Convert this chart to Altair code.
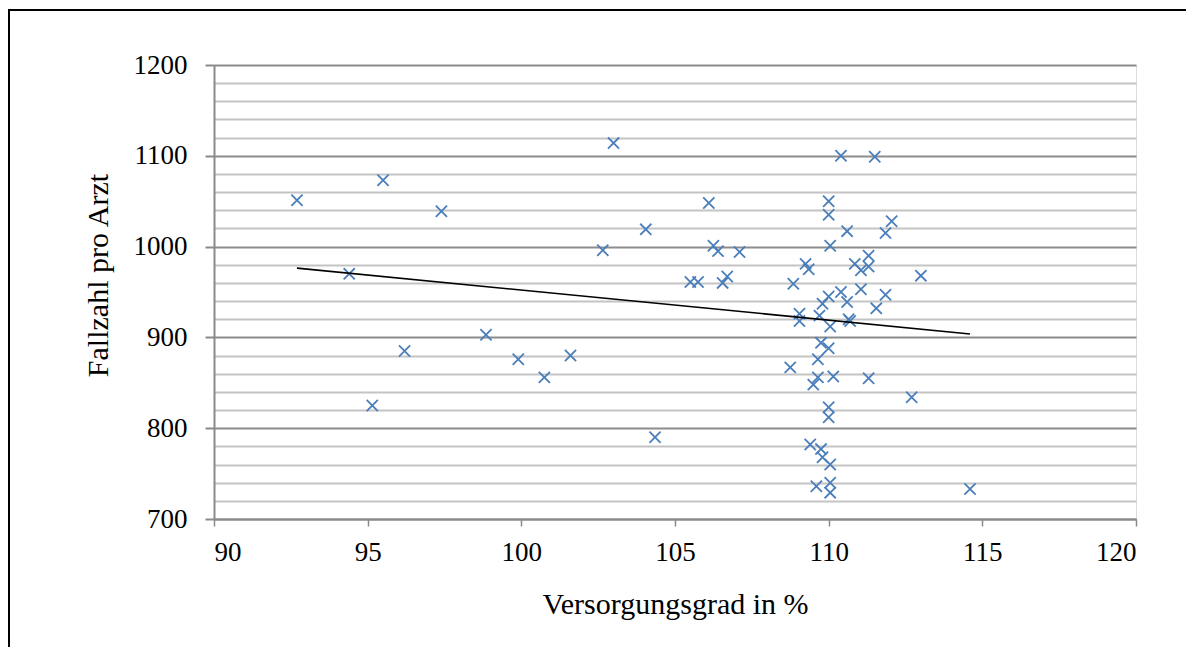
import altair as alt
import pandas as pd

# Versorgungsgrad in % (x) and Fallzahl pro Arzt (y)
versorgungsgrad = [
    92.7, 94.4, 95.15, 95.5, 96.2, 97.4, 98.85, 99.9, 100.75, 101.6,
    102.65, 103.0, 104.05, 104.35, 105.5, 105.75, 106.1, 106.25, 106.4, 106.55,
    106.7, 107.1, 108.75, 108.85, 109.05, 109.05, 109.25, 109.35, 109.4, 109.5,
    109.6, 109.65, 109.65, 109.7, 109.75, 109.75, 109.8, 109.8, 110.0, 110.0,
    110.05, 110.0, 110.05, 110.0, 110.0, 110.0, 110.05, 110.05, 110.05, 110.15,
    110.4, 110.4, 110.6, 110.6, 110.65, 110.7, 110.85, 111.05, 111.05, 111.3,
    111.3, 111.3, 111.5, 111.55, 111.85, 111.85, 112.05, 112.7, 113.0, 114.6,
]
fallzahl = [
    1051, 970, 825, 1073, 885, 1039, 903, 876, 856, 880,
    996, 1114, 1019, 790, 961, 961, 1048, 1001, 995, 960,
    967, 994, 867, 959, 926, 918, 981, 975, 782, 848,
    736, 856, 876, 924, 894, 777, 937, 768, 1050, 1035,
    1001, 945, 912, 888, 823, 812, 760, 740, 729, 857,
    1100, 950, 1017, 939, 920, 918, 981, 974, 953, 990,
    978, 855, 1099, 932, 1015, 947, 1028, 834, 968, 733,
]

x_ticks = [90, 95, 100, 105, 110, 115, 120]
y_grid = list(range(700, 1201, 20))

df = pd.DataFrame({"x": versorgungsgrad, "y": fallzahl})

FONT = "Liberation Serif"
W, H = 922, 454

x_enc = alt.X(
    "x:Q",
    scale=alt.Scale(domain=[90, 120], nice=False, zero=False),
    axis=alt.Axis(
        values=x_ticks,
        tickCount=len(x_ticks),
        grid=False,
        format="d",
        labelOverlap=False,
        title="Versorgungsgrad in %",
        titleFont=FONT,
        titleFontSize=30,
        titleFontWeight="normal",
        titleColor="black",
        titleY=94,
        titleBaseline="alphabetic",
        labelFont=FONT,
        labelFontSize=27,
        labelColor="black",
        labelPadding=13,
        tickSize=7,
        tickColor="#8a8a8a",
        tickWidth=1.5,
        domainColor="#8a8a8a",
        domainWidth=2,
    ),
)
y_enc = alt.Y(
    "y:Q",
    scale=alt.Scale(domain=[700, 1200], nice=False, zero=False),
    axis=alt.Axis(
        values=y_grid,
        tickCount=len(y_grid) + 5,
        grid=True,
        gridColor={"condition": {"test": "datum.value % 100 === 0", "value": "#8c8c8c"}, "value": "#c4c4c4"},
        gridWidth=2,
        format="d",
        labelOverlap=False,
        labelExpr="datum.value % 100 === 0 ? datum.label : ''",
        tickOpacity={"condition": {"test": "datum.value % 100 === 0", "value": 1}, "value": 0},
        tickSize=9,
        tickColor="#8a8a8a",
        tickWidth=2,
        domainColor="#8a8a8a",
        domainWidth=2,
        title="Fallzahl pro Arzt",
        titleFont=FONT,
        titleFontSize=30,
        titleFontWeight="normal",
        titleColor="black",
        titleX=-116,
        titleY=210,
        titleAngle=-90,
        titleBaseline="middle",
        titleAlign="center",
        labelFont=FONT,
        labelFontSize=27,
        labelColor="black",
        labelPadding=18,
    ),
)

points = alt.Chart(df).mark_point(
    shape="M-1,-1L1,1M-1,1L1,-1",
    filled=False,
    size=125,
    strokeWidth=1.8,
    color="#4a7ebb",
    opacity=1,
).encode(x=x_enc, y=y_enc)

trend = (
    alt.Chart(df)
    .transform_regression("x", "y")
    .mark_line(color="black", strokeWidth=1.6)
    .encode(x="x:Q", y="y:Q")
)

frame_top = alt.Chart(df).mark_rule(color="black", strokeWidth=2).encode(
    x=alt.value(-205), x2=alt.value(1100), y=alt.value(-55)
)
frame_left = alt.Chart(df).mark_rule(color="black", strokeWidth=2).encode(
    x=alt.value(-205), y=alt.value(-56), y2=alt.value(700)
)

chart = (
    alt.layer(points, trend, frame_top, frame_left)
    .properties(
        width=W,
        height=H,
        autosize=alt.AutoSizeParams(type="none"),
        padding={"left": 206, "top": 57, "right": 50, "bottom": 128},
    )
    .configure_view(stroke=None)
    .configure(background="white")
)

chart.save("out.html", embed_options={"renderer": "svg", "actions": False})
